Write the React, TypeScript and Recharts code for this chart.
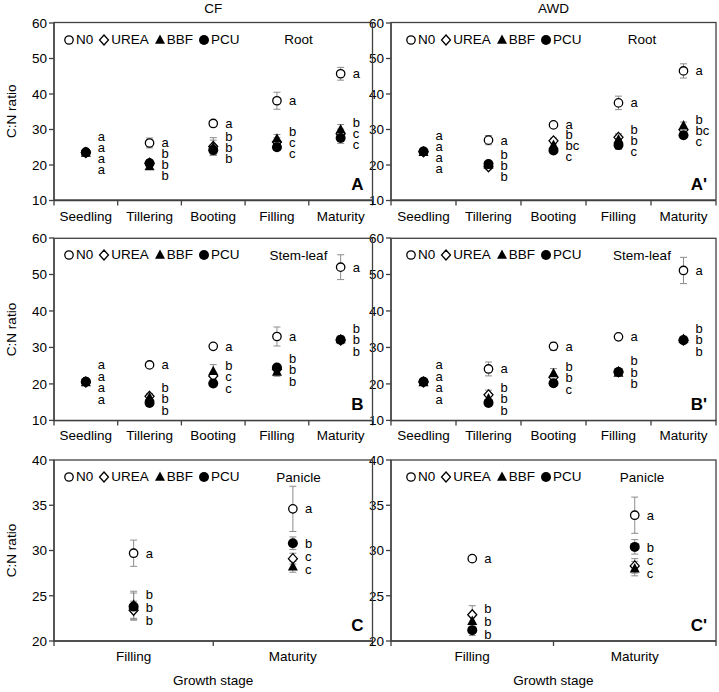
import { ComposedChart, ErrorBar, Legend, Scatter, XAxis, YAxis } from "recharts";

const FONT = '"Liberation Sans", Arial, Helvetica, sans-serif';
const AXIS = "#404040";
const BAR = "#8c8c8c";

const STAGES_FULL = ["Seedling", "Tillering", "Booting", "Filling", "Maturity"];
const STAGES_LATE = ["Filling", "Maturity"];

const SERIES_KEYS = ["n0", "urea", "bbf", "pcu"];
const SERIES_NAMES = ["N0", "UREA", "BBF", "PCU"];

const Y_TICKS_WIDE = [10, 20, 30, 40, 50, 60];
const Y_TICKS_PANICLE = [20, 25, 30, 35, 40];

// rows of each table: N0, UREA, BBF, PCU
// A - CF, root
const CF_ROOT_MEAN = [
  [23.6, 26.2, 31.7, 38.1, 45.7],
  [23.5, 20.5, 25.2, 26.5, 28.8],
  [23.4, 19.6, 25.0, 27.4, 30.0],
  [23.5, 20.5, 24.2, 25.0, 27.6],
];
const CF_ROOT_SE = [
  [0.6, 1.4, 0.7, 2.4, 1.8],
  [0.5, 1.0, 2.5, 1.2, 1.3],
  [0.5, 0.8, 2.0, 1.2, 1.4],
  [0.5, 1.0, 1.5, 0.8, 1.5],
];
const CF_ROOT_SIG = [
  ["a", "a", "a", "a", "a"],
  ["a", "b", "b", "c", "c"],
  ["a", "b", "b", "b", "b"],
  ["a", "b", "b", "c", "c"],
];

// A' - AWD, root
const AWD_ROOT_MEAN = [
  [23.8, 27.0, 31.3, 37.5, 46.5],
  [23.7, 19.5, 26.8, 27.8, 29.9],
  [23.6, 20.0, 25.6, 27.2, 31.1],
  [23.8, 20.3, 24.1, 25.6, 28.4],
];
const AWD_ROOT_SE = [
  [0.5, 1.3, 0.6, 1.9, 2.0],
  [0.5, 0.8, 0.8, 1.0, 1.0],
  [0.5, 0.8, 0.8, 1.2, 1.0],
  [0.5, 0.8, 0.8, 1.2, 0.8],
];
const AWD_ROOT_SIG = [
  ["a", "a", "a", "a", "a"],
  ["a", "b", "b", "b", "bc"],
  ["a", "b", "bc", "b", "b"],
  ["a", "b", "c", "c", "c"],
];

// B - CF, stem-leaf
const CF_STEM_MEAN = [
  [20.6, 25.2, 30.3, 33.0, 52.0],
  [20.5, 16.6, 22.2, 24.0, 32.0],
  [20.4, 16.3, 23.5, 23.3, 32.2],
  [20.6, 14.8, 20.1, 24.5, 32.1],
];
const CF_STEM_SE = [
  [0.4, 0.6, 0.5, 2.6, 3.4],
  [0.5, 0.8, 1.0, 1.0, 1.0],
  [0.5, 0.8, 1.8, 1.2, 1.0],
  [0.5, 0.6, 0.6, 0.8, 0.8],
];
const CF_STEM_SIG = [
  ["a", "a", "a", "a", "a"],
  ["a", "b", "c", "b", "b"],
  ["a", "b", "b", "b", "b"],
  ["a", "b", "c", "b", "b"],
];

// B' - AWD, stem-leaf
const AWD_STEM_MEAN = [
  [20.6, 24.1, 30.3, 32.9, 51.1],
  [20.5, 17.0, 21.8, 23.3, 32.0],
  [20.4, 16.0, 22.9, 23.0, 32.3],
  [20.6, 14.8, 20.2, 23.3, 32.0],
];
const AWD_STEM_SE = [
  [0.4, 1.9, 1.1, 0.7, 3.6],
  [0.5, 1.3, 0.8, 0.6, 0.8],
  [0.5, 0.8, 1.3, 0.6, 0.8],
  [0.5, 0.6, 0.6, 0.6, 0.8],
];
const AWD_STEM_SIG = [
  ["a", "a", "a", "a", "a"],
  ["a", "b", "b", "b", "b"],
  ["a", "b", "b", "b", "b"],
  ["a", "b", "c", "b", "b"],
];

// C - CF, panicle
const CF_PANICLE_MEAN = [
  [29.7, 34.6],
  [23.4, 29.1],
  [24.0, 28.2],
  [23.8, 30.8],
];
const CF_PANICLE_SE = [
  [1.45, 2.5],
  [1.0, 0.6],
  [1.5, 0.6],
  [1.5, 0.7],
];
const CF_PANICLE_SIG = [
  ["a", "a"],
  ["b", "c"],
  ["b", "c"],
  ["b", "b"],
];

// C' - AWD, panicle
const AWD_PANICLE_MEAN = [
  [29.1, 33.9],
  [22.9, 28.3],
  [22.2, 28.0],
  [21.2, 30.4],
];
const AWD_PANICLE_SE = [
  [0.3, 2.0],
  [1.0, 0.8],
  [0.8, 0.8],
  [0.6, 0.8],
];
const AWD_PANICLE_SIG = [
  ["a", "a"],
  ["b", "c"],
  ["b", "c"],
  ["b", "b"],
];

// layout (plot areas in page pixels)
const COLS = [
  { left: 54, width: 318.5 },
  { left: 391, width: 325 },
];
const ROWS = [
  { top: 22.5, height: 177.5 },
  { top: 238.3, height: 182.4 },
  { top: 460, height: 181 },
];
const Y_W = 40;
const PLOT_X = 54;
const M_TOP = 12;
const M_RIGHT = 4;
const X_H = 30;

function buildRows(stages: string[], mean: number[][], se: number[][], sig: string[][]) {
  return stages.map((stage, i) => {
    const row: Record<string, any> = { stage };
    SERIES_KEYS.forEach((k, s) => {
      row[k] = mean[s][i];
      row[k + "Se"] = se[s][i];
      row[k + "Sig"] = sig[s][i];
    });
    return row;
  });
}

function Marker({ kind, cx, cy }: { kind: string; cx: number; cy: number }) {
  if (kind === "n0")
    return <circle cx={cx} cy={cy} r={4.2} fill="#fff" stroke="#000" strokeWidth={1.3} />;
  if (kind === "urea")
    return (
      <polygon
        points={`${cx},${cy - 5} ${cx + 4.5},${cy} ${cx},${cy + 5} ${cx - 4.5},${cy}`}
        fill="#fff"
        stroke="#000"
        strokeWidth={1.3}
      />
    );
  if (kind === "bbf")
    return (
      <polygon
        points={`${cx},${cy - 5.5} ${cx + 5},${cy + 3.8} ${cx - 5},${cy + 3.8}`}
        fill="#000"
      />
    );
  return <circle cx={cx} cy={cy} r={5} fill="#000" />;
}

// letters: N0 on its own when it is far from the fertilised treatments,
// the rest stacked in a column beside the cluster, highest value first
function letterY(payload: any, key: string, cy: number, ppu: number, gap: number) {
  const others = SERIES_KEYS.slice(1);
  const mean = others.reduce((s, k) => s + payload[k], 0) / others.length;
  const split = Math.abs(payload.n0 - mean) * ppu > 18;
  const group = split ? (key === "n0" ? ["n0"] : others) : SERIES_KEYS;
  const center = group.reduce((s, k) => s + payload[k], 0) / group.length;
  const sorted = [...group].sort((a, b) => payload[b] - payload[a]);
  const rank = sorted.indexOf(key);
  const centerPx = cy + (payload[key] - center) * ppu;
  return centerPx + (rank - (group.length - 1) / 2) * gap;
}

function makeShape(key: string, ppu: number, gap: number) {
  return (props: any) => {
    const { cx, cy, payload } = props;
    if (cx == null || cy == null) return <g />;
    return (
      <g>
        <Marker kind={key} cx={cx} cy={cy} />
        <text
          x={cx + 12}
          y={letterY(payload, key, cy, ppu, gap)}
          dominantBaseline="central"
          fontSize={13}
          fill="#000"
          stroke="none"
        >
          {payload[key + "Sig"]}
        </text>
      </g>
    );
  };
}

function makeStageTick(count: number, plotWidth: number) {
  const half = plotWidth / count / 2;
  return (props: any) => {
    const { x, y, payload, index } = props;
    const axisY = y - 10;
    return (
      <g>
        <line x1={x - half} x2={x - half} y1={axisY} y2={axisY + 5} stroke={AXIS} strokeWidth={1.3} />
        {index === count - 1 && (
          <line x1={x + half} x2={x + half} y1={axisY} y2={axisY + 5} stroke={AXIS} strokeWidth={1.3} />
        )}
        <text x={x} y={axisY + 20} textAnchor="middle" fontSize={13.5} fill="#000">
          {payload.value}
        </text>
      </g>
    );
  };
}

const legendContent = (props: any) => {
  const given: any[] = props.payload || [];
  const items = SERIES_KEYS.map((k, i) => {
    const hit = given.find((p) => p.dataKey === k || p.value === SERIES_NAMES[i]);
    return { key: k, label: hit ? hit.value : SERIES_NAMES[i] };
  });
  return (
    <div
      style={{
        display: "flex",
        alignItems: "center",
        fontSize: 13.5,
        color: "#000",
        whiteSpace: "nowrap",
        lineHeight: "14px",
      }}
    >
      {items.map((it) => (
        <span key={it.key} style={{ display: "inline-flex", alignItems: "center", marginRight: 5 }}>
          <svg width={12} height={12} style={{ marginRight: 1 }}>
            <Marker kind={it.key} cx={6} cy={6} />
          </svg>
          {it.label}
        </span>
      ))}
    </div>
  );
};

interface PanelProps {
  col: number;
  row: number;
  stages: string[];
  mean: number[][];
  se: number[][];
  sig: string[][];
  domain: [number, number];
  ticks: number[];
  gap: number;
}

function Panel({ col, row, stages, mean, se, sig, domain, ticks, gap }: PanelProps) {
  const c = COLS[col];
  const r = ROWS[row];
  const data = buildRows(stages, mean, se, sig);
  const ppu = r.height / (domain[1] - domain[0]);
  const width = PLOT_X + c.width + M_RIGHT;
  const height = M_TOP + r.height + X_H;
  const frame = { stroke: AXIS, strokeWidth: 1.3 };

  return (
    <div style={{ position: "absolute", left: c.left - PLOT_X, top: r.top - M_TOP, width, height }}>
      <ComposedChart
        width={width}
        height={height}
        data={data}
        margin={{ top: M_TOP, right: M_RIGHT, bottom: 0, left: PLOT_X - Y_W }}
      >
        <XAxis
          dataKey="stage"
          type="category"
          scale="band"
          interval={0}
          height={X_H}
          tickSize={5}
          tickMargin={5}
          tickLine={false}
          axisLine={frame}
          tick={makeStageTick(stages.length, c.width)}
        />
        <YAxis
          type="number"
          domain={domain}
          ticks={ticks}
          allowDataOverflow
          width={Y_W}
          tickSize={5}
          tickMargin={2}
          tick={{ fontSize: 13.5, fill: "#000" }}
          tickLine={{ stroke: AXIS, strokeWidth: 1.3 }}
          axisLine={frame}
        />
        <Legend
          layout="horizontal"
          align="center"
          verticalAlign="middle"
          content={legendContent}
          wrapperStyle={{ top: M_TOP + 10, left: PLOT_X + (col === 0 ? 9 : 14), width: "auto" }}
        />
        {SERIES_KEYS.map((k, i) => (
          <Scatter
            key={k}
            name={SERIES_NAMES[i]}
            dataKey={k}
            isAnimationActive={false}
            shape={makeShape(k, ppu, gap)}
          >
            <ErrorBar dataKey={k + "Se"} direction="y" width={3.5} stroke={BAR} strokeWidth={1} />
          </Scatter>
        ))}
      </ComposedChart>
    </div>
  );
}

const ORGANS = ["Root", "Stem-leaf", "Panicle"];
const TAGS = [
  ["A", "A'"],
  ["B", "B'"],
  ["C", "C'"],
];
const REGIMES = ["CF", "AWD"];

export default function App() {
  return (
    <div
      style={{
        position: "absolute",
        left: 0,
        top: 0,
        width: 719,
        height: 692,
        background: "#fff",
        fontFamily: FONT,
      }}
    >
      <Panel col={0} row={0} stages={STAGES_FULL} mean={CF_ROOT_MEAN} se={CF_ROOT_SE} sig={CF_ROOT_SIG} domain={[10, 60]} ticks={Y_TICKS_WIDE} gap={11} />
      <Panel col={1} row={0} stages={STAGES_FULL} mean={AWD_ROOT_MEAN} se={AWD_ROOT_SE} sig={AWD_ROOT_SIG} domain={[10, 60]} ticks={Y_TICKS_WIDE} gap={11} />
      <Panel col={0} row={1} stages={STAGES_FULL} mean={CF_STEM_MEAN} se={CF_STEM_SE} sig={CF_STEM_SIG} domain={[10, 60]} ticks={Y_TICKS_WIDE} gap={11.5} />
      <Panel col={1} row={1} stages={STAGES_FULL} mean={AWD_STEM_MEAN} se={AWD_STEM_SE} sig={AWD_STEM_SIG} domain={[10, 60]} ticks={Y_TICKS_WIDE} gap={11.5} />
      <Panel col={0} row={2} stages={STAGES_LATE} mean={CF_PANICLE_MEAN} se={CF_PANICLE_SE} sig={CF_PANICLE_SIG} domain={[20, 40]} ticks={Y_TICKS_PANICLE} gap={13} />
      <Panel col={1} row={2} stages={STAGES_LATE} mean={AWD_PANICLE_MEAN} se={AWD_PANICLE_SE} sig={AWD_PANICLE_SIG} domain={[20, 40]} ticks={Y_TICKS_PANICLE} gap={13} />
      <svg width={719} height={692} style={{ position: "absolute", left: 0, top: 0, pointerEvents: "none" }}>
        {ROWS.map((r, j) =>
          COLS.map((c, i) => (
            <rect
              key={`f${j}${i}`}
              x={c.left}
              y={r.top}
              width={c.width}
              height={r.height}
              fill="none"
              stroke={AXIS}
              strokeWidth={1.3}
            />
          ))
        )}
        {COLS.map((c, i) => (
          <text key={"t" + i} x={c.left + c.width / 2} y={8.5} textAnchor="middle" dominantBaseline="central" fontSize={13.5}>
            {REGIMES[i]}
          </text>
        ))}
        {COLS.map((c, i) => (
          <text key={"g" + i} x={c.left + c.width / 2} y={680} textAnchor="middle" dominantBaseline="central" fontSize={13.5}>
            Growth stage
          </text>
        ))}
        {ROWS.map((r, j) => (
          <text
            key={"y" + j}
            transform={`translate(11, ${r.top + r.height / 2}) rotate(-90)`}
            textAnchor="middle"
            dominantBaseline="central"
            fontSize={13.5}
          >
            C:N ratio
          </text>
        ))}
        {ROWS.map((r, j) =>
          COLS.map((c, i) => (
            <g key={`p${j}${i}`}>
              <text x={c.left + c.width - 74} y={r.top + 17} textAnchor="middle" dominantBaseline="central" fontSize={13.5}>
                {ORGANS[j]}
              </text>
              <text
                x={c.left + c.width - 9}
                y={r.top + r.height - 16}
                textAnchor="end"
                dominantBaseline="central"
                fontSize={17}
                fontWeight="bold"
              >
                {TAGS[j][i]}
              </text>
            </g>
          ))
        )}
      </svg>
    </div>
  );
}
